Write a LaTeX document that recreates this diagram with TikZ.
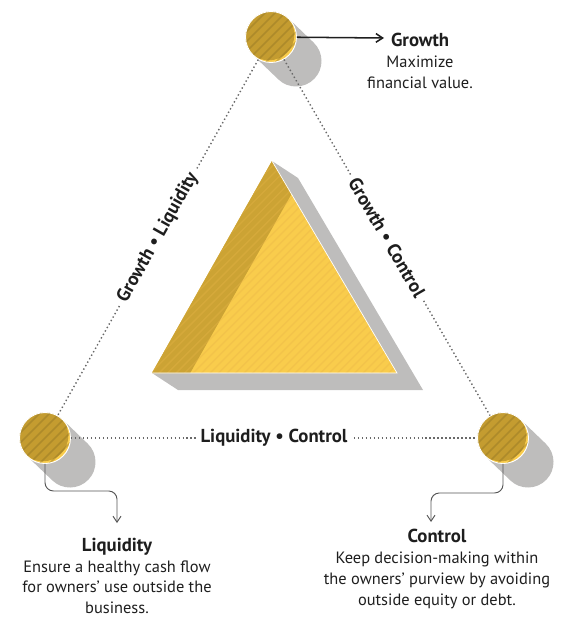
\documentclass[tikz,border=0pt]{standalone}
\usepackage{fontspec}
\setmainfont{PT Sans}
\usetikzlibrary{arrows.meta,backgrounds}
\definecolor{tridark}{RGB}{196,156,48}
\definecolor{triband}{RGB}{204,163,52}
\definecolor{trilight}{RGB}{249,204,76}
\definecolor{trishade}{RGB}{190,189,188}
\definecolor{triink}{RGB}{30,30,30}
\definecolor{tridots}{RGB}{105,105,105}
\newcommand{\goal}[1]{{\fontsize{16}{18}\selectfont\bfseries #1}}

\begin{document}
\begin{tikzpicture}[x=0.03cm,y=-0.03cm,
  font=\fontsize{14}{17.8}\selectfont,
  disc/.style={circle,minimum size=1.53cm,inner sep=0pt,draw=white,line width=0.8pt,
    path picture={
      \fill[trilight] (path picture bounding box.center) circle (0.8cm);
      \fill[tridark] ([shift={(-2.2,-2.2)}]path picture bounding box.center) circle (0.765cm);
      \foreach \c in {-70,-60,...,70}
        \draw[tridark!75!black,line width=1.3pt,opacity=0.45]
          ([shift={(\c-40,40)}]path picture bounding box.center) -- ++(80,-80);}},
  capsule/.style={trishade,line width=1.53cm,line cap=round},
  dots/.style={tridots,line width=1.2pt,dash pattern=on 1.2pt off 2.2pt},
  pair/.style={midway,sloped,fill=white,inner sep=4pt,text=triink,font=\fontsize{16}{18}\selectfont\bfseries},
  blurb/.style={align=center,text=triink,inner sep=0pt},
  pointer/.style={triink,line width=1.3pt,-{Straight Barb[length=2mm,width=2.6mm]}},
  drop/.style={triink!75,line width=0.8pt,rounded corners=2.5mm,-{Straight Barb[length=1.8mm,width=2.4mm]}}]

\useasboundingbox (0,0) rectangle (560,618);

% ================= THE PYRAMID =================
\fill[trishade] (272,161) -- ++(26,17) -- (423,390) -- (178,390) -- (152,373) -- cycle;
\fill[trilight] (272,161) -- (397,373) -- (152,373) -- cycle;
\fill[triband] (272,161) -- (291.5,194) -- (190.2,373) -- (152,373) -- cycle;
\begin{scope}
  \clip (272,161) -- (397,373) -- (152,373) -- cycle;
  \foreach \c in {430,438.5,...,780}
    \draw[trilight!70!brown,line width=1.2pt,opacity=0.35] (\c-400,400) -- (\c-150,150);
\end{scope}
\draw[white,line width=0.6pt] (272,161) -- (397,373) -- (152,373);

% ================= THE THREE GOALS =================
\node[disc] (top) at (271,37) {};
\node[disc] (lft) at (45,438) {};
\node[disc] (rgt) at (503,438) {};

\begin{scope}[on background layer]
  \draw[capsule] (top.center) -- ++(25,24);
  \draw[capsule] (lft.center) -- ++(25,24);
  \draw[capsule] (rgt.center) -- ++(25,24);
\end{scope}

% trade-offs between each pair
\draw[dots] (top) -- node[pair] {Growth \textbullet{} Liquidity} (lft);
\draw[dots] (top) -- node[pair] {Growth \textbullet{} Control} (rgt);
\draw[dots] (lft) -- node[pair] {Liquidity \textbullet{} Control} (rgt);

% ================= CALLOUTS =================
\node[blurb] (gtxt) at (420,61) {\goal{Growth}\\Maximize\\financial value.};
\node[blurb] (ltxt) at (117,576) {\goal{Liquidity}\\Ensure a healthy cash flow\\for owners' use outside the\\business.};
\node[blurb] (rtxt) at (437,569) {\goal{Control}\\Keep decision-making within\\the owners' purview by avoiding\\outside equity or debt.};

\coordinate (gtip) at (384,38);
\coordinate (ltip) at (117,523);
\coordinate (rtip) at (431,522);
\draw[pointer] (top) -- (gtip);
\draw[drop] (lft.south) -- ++(0,27) -| (ltip);
\draw[drop] (rgt.south) -- ++(0,29) -| (rtip);
\end{tikzpicture}
\end{document}
